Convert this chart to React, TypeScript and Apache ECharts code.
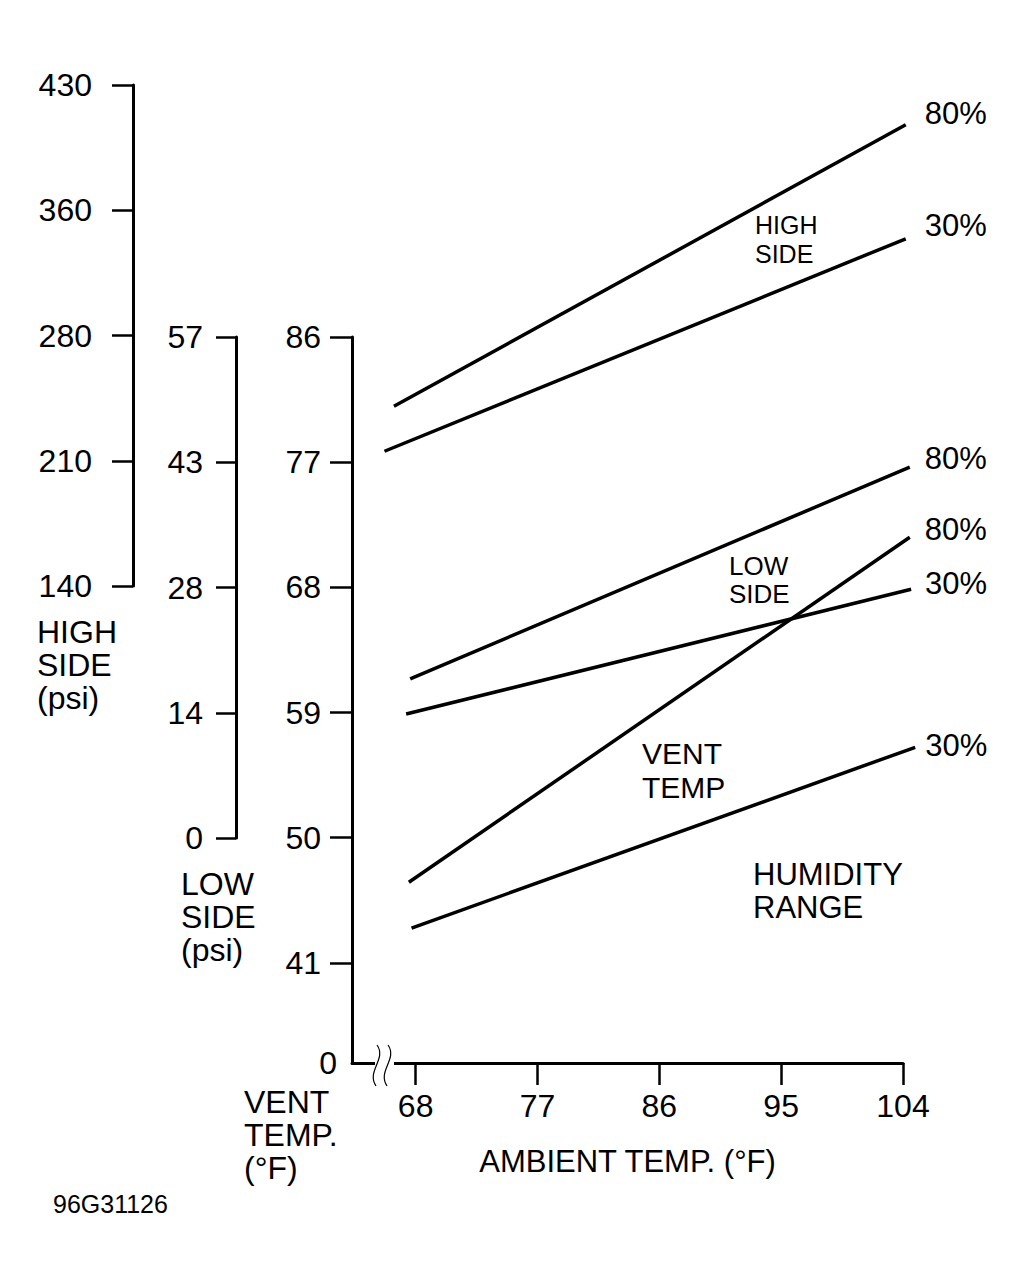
import React, { useEffect, useRef } from "react";
import * as echarts from "echarts";

const FONT = "'Liberation Sans', Arial, Helvetica, sans-serif";

// Tick labels
const highSideTicks = ["140", "210", "280", "360", "430"];
const lowSideTicks = ["0", "14", "28", "43", "57"];
const ventTempTicks = [41, 50, 59, 68, 77, 86];
const ventTempBrokenMin = 33.8; // bottom of the broken vent-temp axis, printed as "0"
const ambientTicks = [68, 77, 86, 95, 104];
const ambientMin = 63.3;
const ambientMax = 104;
const ambientDataMax = 106; // room for the lines to run slightly past 104

// High side pressure (psi) vs ambient temp (°F)
const highAmbient80 = [66.4, 104.2];
const highSide80 = [244, 407];
const highAmbient30 = [65.7, 104.2];
const highSide30 = [218, 341];

// Low side pressure (psi)
const lowAmbient80 = [67.6, 104.5];
const lowSide80 = [18.1, 42.2];
const lowAmbient30 = [67.3, 104.6];
const lowSide30 = [14.1, 28.3];

// Vent temp (°F)
const ventAmbient80 = [67.5, 104.5];
const ventTemp80 = [46.8, 71.6];
const ventAmbient30 = [67.7, 104.9];
const ventTemp30 = [43.5, 56.5];

function makeSeries(
  name: string,
  endText: string,
  xs: number[],
  ys: number[],
  axisIndex: number,
  yAxisIndex: number,
  labelDx: number,
  labelDy: number
) {
  const last = xs.length - 1;
  return {
    type: "line",
    name,
    xAxisIndex: axisIndex,
    yAxisIndex,
    clip: false,
    silent: true,
    symbol: "circle",
    symbolSize: 0,
    showSymbol: true,
    lineStyle: { color: "#000", width: 3.5, cap: "butt" },
    itemStyle: { color: "#000", borderWidth: 0 },
    emphasis: { disabled: true },
    label: { show: false },
    z: 5,
    data: xs.map((x, i) =>
      i === last
        ? {
            value: [x, ys[i]],
            label: {
              show: true,
              formatter: endText,
              position: "right",
              distance: labelDx,
              offset: [0, labelDy],
              color: "#000",
              fontSize: 31,
              fontFamily: FONT,
            },
          }
        : [x, ys[i]]
    ),
  };
}

const axisLineStyle = { color: "#000", width: 3 };
const tickLineStyle = { color: "#000", width: 2.5 };

function txt(text: string, x: number, y: number, fontSize: number, lineHeight: number) {
  return {
    type: "text",
    x,
    y,
    z: 50,
    silent: true,
    style: {
      text,
      fill: "#000",
      fontSize,
      fontFamily: FONT,
      lineHeight,
      align: "left",
      verticalAlign: "top",
    },
  };
}

export default function App() {
  const ref = useRef<HTMLDivElement>(null);

  useEffect(() => {
    document.body.style.margin = "0";
    if (!ref.current) return;
    const chart = echarts.init(ref.current, undefined, { renderer: "svg" });

    const plotLeft = 352;
    const plotWidth = 551; // 63.3 .. 104 °F
    const dataWidth = (plotWidth * (ambientDataMax - ambientMin)) / (ambientMax - ambientMin);

    const hiddenX = (gridIndex: number) => ({
      type: "value",
      gridIndex,
      min: ambientMin,
      max: ambientDataMax,
      show: false,
    });

    const option: any = {
      animation: false,
      backgroundColor: "#fff",
      textStyle: { fontFamily: FONT, color: "#000" },
      grid: [
        { left: plotLeft, top: 85, width: dataWidth, height: 501 }, // high side data
        { left: plotLeft, top: 337, width: dataWidth, height: 501 }, // low side data
        { left: plotLeft, top: 337, width: plotWidth, height: 726 }, // visible vent/ambient axes
        { left: plotLeft, top: 337, width: dataWidth, height: 726 }, // vent temp data
      ],
      xAxis: [
        hiddenX(0),
        hiddenX(1),
        {
          type: "value",
          gridIndex: 2,
          min: ambientMin,
          max: ambientMax,
          name: "AMBIENT TEMP. (°F)",
          nameLocation: "middle",
          nameGap: 83,
          nameTextStyle: { color: "#000", fontSize: 31, fontFamily: FONT },
          axisLine: { show: true, lineStyle: axisLineStyle },
          axisTick: { show: true, customValues: ambientTicks, length: 22, lineStyle: tickLineStyle },
          axisLabel: {
            customValues: ambientTicks,
            margin: 27,
            color: "#000",
            fontSize: 32,
            fontFamily: FONT,
          },
          splitLine: { show: false },
        },
        hiddenX(3),
      ],
      yAxis: [
        // 0: high side visible tick scale
        {
          type: "category",
          gridIndex: 0,
          data: highSideTicks,
          boundaryGap: false,
          position: "left",
          offset: 219,
          axisLine: { show: true, lineStyle: axisLineStyle },
          axisTick: { show: true, interval: 0, length: 21, lineStyle: tickLineStyle },
          axisLabel: { interval: 0, margin: 41, color: "#000", fontSize: 32, fontFamily: FONT },
          splitLine: { show: false },
        },
        // 1: high side data scale
        { type: "value", gridIndex: 0, min: 140, max: 430, show: false },
        // 2: low side visible tick scale
        {
          type: "category",
          gridIndex: 1,
          data: lowSideTicks,
          boundaryGap: false,
          position: "left",
          offset: 116,
          axisLine: { show: true, lineStyle: axisLineStyle },
          axisTick: { show: true, interval: 0, length: 20, lineStyle: tickLineStyle },
          axisLabel: { interval: 0, margin: 33, color: "#000", fontSize: 32, fontFamily: FONT },
          splitLine: { show: false },
        },
        // 3: low side data scale
        { type: "value", gridIndex: 1, min: 0, max: 57, show: false },
        // 4: vent temp visible axis (broken at the bottom)
        {
          type: "value",
          gridIndex: 2,
          min: ventTempBrokenMin,
          max: 86,
          position: "left",
          axisLine: { show: true, lineStyle: axisLineStyle },
          axisTick: { show: true, customValues: ventTempTicks, length: 22, lineStyle: tickLineStyle },
          axisLabel: {
            customValues: [ventTempBrokenMin, ...ventTempTicks],
            margin: 15,
            color: "#000",
            fontSize: 32,
            fontFamily: FONT,
            formatter: (v: number) => (v < 40 ? "0" : `{t|${v}}`),
            rich: {
              t: { padding: [0, 16, 0, 0], color: "#000", fontSize: 32, fontFamily: FONT },
            },
          },
          splitLine: { show: false },
        },
        // 5: vent temp data scale
        { type: "value", gridIndex: 3, min: ventTempBrokenMin, max: 86, show: false },
      ],
      series: [
        makeSeries("High side 80%", "80%", highAmbient80, highSide80, 0, 1, 19, -11),
        makeSeries("High side 30%", "30%", highAmbient30, highSide30, 0, 1, 19, -13),
        makeSeries("Low side 80%", "80%", lowAmbient80, lowSide80, 1, 3, 15, -9),
        makeSeries("Low side 30%", "30%", lowAmbient30, lowSide30, 1, 3, 14, -6),
        makeSeries("Vent temp 80%", "80%", ventAmbient80, ventTemp80, 3, 5, 15, -8),
        makeSeries("Vent temp 30%", "30%", ventAmbient30, ventTemp30, 3, 5, 10, -2),
      ],
      graphic: [
        // axis break on the ambient axis
        {
          type: "rect",
          z: 100,
          silent: true,
          shape: { x: 375, y: 1058, width: 19, height: 10 },
          style: { fill: "#fff" },
        },
        {
          type: "bezierCurve",
          z: 101,
          silent: true,
          shape: { x1: 377, y1: 1045, cpx1: 387, cpy1: 1059, cpx2: 366, cpy2: 1071, x2: 376, y2: 1086 },
          style: { stroke: "#000", lineWidth: 1.2, fill: "none" },
        },
        {
          type: "bezierCurve",
          z: 101,
          silent: true,
          shape: { x1: 388, y1: 1045, cpx1: 398, cpy1: 1059, cpx2: 377, cpy2: 1071, x2: 387, y2: 1086 },
          style: { stroke: "#000", lineWidth: 1.2, fill: "none" },
        },
        txt("HIGH\nSIDE\n(psi)", 37, 615, 32, 33),
        txt("LOW\nSIDE\n(psi)", 181, 867, 32, 33),
        txt("VENT\nTEMP.\n(°F)", 244, 1085, 32, 33),
        txt("96G31126", 53, 1191, 25, 25),
        txt("HIGH\nSIDE", 755, 210, 25, 29),
        txt("LOW\nSIDE", 729, 552, 26, 28),
        txt("VENT\nTEMP", 642, 736, 30, 34),
        txt("HUMIDITY\nRANGE", 753, 858, 31, 33),
      ],
    };

    chart.setOption(option);
    return () => chart.dispose();
  }, []);

  return <div ref={ref} style={{ width: 1026, height: 1288 }} />;
}
